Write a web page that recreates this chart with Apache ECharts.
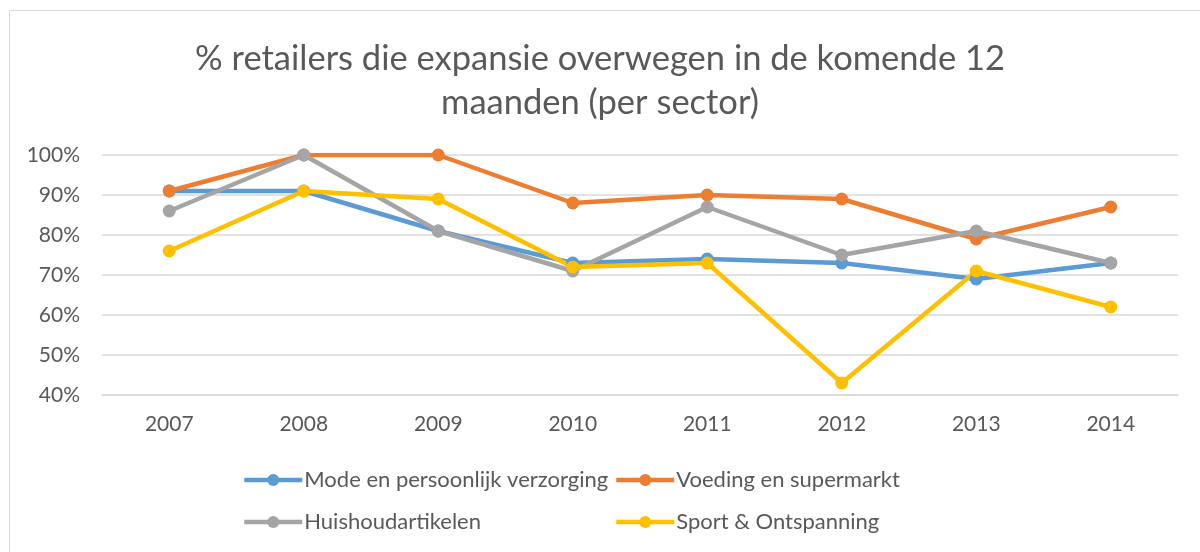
<html>
<head>
    <meta charset="UTF-8">
    <title>Expansie per sector</title>
    <script src="https://cdn.jsdelivr.net/npm/echarts@6/dist/echarts.min.js"></script>
    <style>
        body { margin: 0; padding: 0; border: none; }
        #echart { width: 1200px; height: 552px; }
    </style>
</head>
<body>
<div id="echart"></div>
<script>
    const years = ['2007', '2008', '2009', '2010', '2011', '2012', '2013', '2014'];
    const mode = [91, 91, 81, 73, 74, 73, 69, 73];
    const voeding = [91, 100, 100, 88, 90, 89, 79, 87];
    const huishoud = [86, 100, 81, 71, 87, 75, 81, 73];
    const sport = [76, 91, 89, 72, 73, 43, 71, 62];
    const names = ['Mode en persoonlijk verzorging', 'Voeding en supermarkt', 'Huishoudartikelen', 'Sport & Ontspanning'];
    const colors = ['#5B9BD5', '#ED7D31', '#A5A5A5', '#FFC000'];

    const font = 'Lato';
    const textColor = '#595959';

    function line(name, data, color) {
        return {
            name: name,
            type: 'line',
            data: data,
            symbol: 'circle',
            symbolSize: 13,
            lineStyle: { width: 4.5, color: color },
            itemStyle: { color: color },
            emphasis: { disabled: true }
        };
    }

    function legend(left, data) {
        return {
            left: left,
            top: 469,
            orient: 'vertical',
            padding: 0,
            itemGap: 20,
            itemWidth: 58,
            itemHeight: 15,
            data: data,
            lineStyle: { width: 4.5 },
            textStyle: { fontFamily: font, fontSize: 22, color: textColor, padding: [0, 0, 0, -3] }
        };
    }

    const ec = echarts.init(document.getElementById('echart'));
    ec.setOption({
        color: colors,
        animation: false,
        title: {
            text: '% retailers die expansie overwegen in de komende 12\nmaanden (per sector)',
            left: 'center',
            top: 32,
            textStyle: { fontFamily: font, fontSize: 34.5, fontWeight: 'normal', color: textColor, lineHeight: 44 }
        },
        graphic: [{
            type: 'rect',
            shape: { x: 9.5, y: 10.5, width: 1400, height: 800 },
            style: { fill: 'none', stroke: '#d9d9d9', lineWidth: 1 },
            silent: true
        }],
        legend: [
            legend(242, [names[0], names[2]]),
            legend(614, [names[1], names[3]])
        ],
        grid: { left: 102, right: 22, top: 155, bottom: 157, containLabel: false },
        xAxis: {
            type: 'category',
            data: years,
            boundaryGap: true,
            axisLine: { lineStyle: { color: '#d9d9d9', width: 1.5 } },
            axisTick: { show: false },
            axisLabel: { fontFamily: font, fontSize: 21, color: textColor, margin: 19 }
        },
        yAxis: {
            type: 'value',
            min: 40,
            max: 100,
            interval: 10,
            axisLine: { show: false },
            axisTick: { show: false },
            splitLine: { lineStyle: { color: '#d9d9d9', width: 1.5 } },
            axisLabel: { fontFamily: font, fontSize: 21, color: textColor, margin: 22, formatter: '{value}%' }
        },
        series: [
            line(names[0], mode, colors[0]),
            line(names[1], voeding, colors[1]),
            line(names[2], huishoud, colors[2]),
            line(names[3], sport, colors[3])
        ]
    });
</script>
</body>
</html>
